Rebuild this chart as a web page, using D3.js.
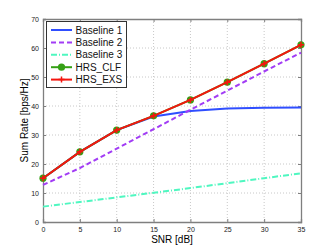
<!DOCTYPE html>
<html>
<head>
<meta charset="utf-8">
<script src="https://cdn.jsdelivr.net/npm/d3@7"></script>
<style>
body { margin: 0; background: #fff; }
text { font-family: "Liberation Sans", Arial, sans-serif; }
</style>
</head>
<body>
<svg width="332" height="250"></svg>
<script>
// SNR points and the five curves
var snr = [0, 5, 10, 15, 20, 25, 30, 35];
var baseline1 = [15.1, 24.2, 31.7, 36.4, 38.3, 39.1, 39.4, 39.5];
var baseline2 = [12.8, 18.6, 25.3, 32.0, 38.7, 45.3, 51.9, 58.4];
var baseline3 = [5.3, 6.9, 8.5, 10.1, 11.7, 13.4, 15.1, 16.8];
var hrsClf = [15.1, 24.2, 31.7, 36.6, 42.1, 48.2, 54.6, 61.1];
var hrsExs = [15.1, 24.2, 31.7, 36.6, 42.1, 48.2, 54.6, 61.1];
var xTicks = [0, 5, 10, 15, 20, 25, 30, 35];
var yTicks = [0, 10, 20, 30, 40, 50, 60, 70];

var svg = d3.select("svg");
var pLeft = 43, pRight = 301, pTop = 19, pBottom = 222;

var x = d3.scaleLinear().domain([0, 35]).range([pLeft, pRight]);
var y = d3.scaleLinear().domain([0, 70]).range([pBottom, pTop]);

// grid
svg.append("g").selectAll("line").data(xTicks.slice(1, -1)).enter().append("line")
  .attr("x1", function(d) { return x(d); }).attr("x2", function(d) { return x(d); })
  .attr("y1", pTop).attr("y2", pBottom)
  .style("stroke", "#c8c8c8").style("stroke-width", 1).style("stroke-dasharray", "1,2");
svg.append("g").selectAll("line").data(yTicks.slice(1, -1)).enter().append("line")
  .attr("y1", function(d) { return y(d); }).attr("y2", function(d) { return y(d); })
  .attr("x1", pLeft).attr("x2", pRight)
  .style("stroke", "#c8c8c8").style("stroke-width", 1).style("stroke-dasharray", "1,2");

// axes, ticks pointing inward
svg.append("g").attr("transform", "translate(0," + pBottom + ")")
  .call(d3.axisBottom(x).tickValues(xTicks).tickSize(-3).tickPadding(5));
svg.append("g").attr("transform", "translate(" + pLeft + ",0)")
  .call(d3.axisLeft(y).tickValues(yTicks).tickSize(-3).tickPadding(4));
svg.append("g").attr("transform", "translate(0," + pTop + ")")
  .call(d3.axisTop(x).tickValues(xTicks).tickSize(-3).tickFormat(""));
svg.append("g").attr("transform", "translate(" + pRight + ",0)")
  .call(d3.axisRight(y).tickValues(yTicks).tickSize(-3).tickFormat(""));
svg.selectAll(".domain").style("stroke", "#7f7f7f").style("stroke-width", 1.3);
svg.selectAll(".tick line").style("stroke", "#7f7f7f");
svg.selectAll(".tick text").style("font-size", "7px").style("fill", "#222")
  .style("font-family", "'Liberation Sans', Arial, sans-serif");

// axis labels
svg.append("text").attr("x", (pLeft + pRight) / 2).attr("y", 243)
  .attr("text-anchor", "middle").style("font-size", "10px").text("SNR [dB]");
svg.append("text").attr("transform", "translate(28," + ((pTop + pBottom) / 2) + ") rotate(-90)")
  .attr("text-anchor", "middle").style("font-size", "10px").text("Sum Rate [bps/Hz]");

var line = d3.line()
  .x(function(d, i) { return x(snr[i]); })
  .y(function(d) { return y(d); });

var curves = [
  { name: "Baseline 1", data: baseline1, color: "#2f4eff", dash: null, marker: null },
  { name: "Baseline 2", data: baseline2, color: "#a23cf5", dash: "5,3", marker: null },
  { name: "Baseline 3", data: baseline3, color: "#4ff7c0", dash: "6,2,1,2", marker: null },
  { name: "HRS_CLF", data: hrsClf, color: "#35a015", dash: null, marker: "circle" },
  { name: "HRS_EXS", data: hrsExs, color: "#f4160f", dash: null, marker: "plus" }
];

curves.forEach(function(c) {
  svg.append("path").datum(c.data).attr("d", line)
    .style("fill", "none").style("stroke", c.color).style("stroke-width", 2)
    .style("stroke-dasharray", c.dash);
  if (c.marker == "circle") {
    svg.append("g").selectAll("circle").data(c.data).enter().append("circle")
      .attr("cx", function(d, i) { return x(snr[i]); })
      .attr("cy", function(d) { return y(d); })
      .attr("r", 3.6).style("fill", c.color);
  }
  if (c.marker == "plus") {
    svg.append("g").selectAll("path").data(c.data).enter().append("path")
      .attr("d", function(d, i) {
        var px = x(snr[i]), py = y(d);
        return "M" + (px - 3) + "," + py + "H" + (px + 3) + "M" + px + "," + (py - 3) + "V" + (py + 3);
      })
      .style("stroke", c.color).style("stroke-width", 1.5);
  }
});

// legend
var lg = svg.append("g");
lg.append("rect").attr("x", 46.5).attr("y", 21.5).attr("width", 80).attr("height", 66)
  .style("fill", "#fff").style("stroke", "#333").style("stroke-width", 1);
curves.forEach(function(c, i) {
  var ly = 30 + i * 12.4;
  lg.append("line").attr("x1", 51).attr("x2", 72).attr("y1", ly).attr("y2", ly)
    .style("stroke", c.color).style("stroke-width", 2).style("stroke-dasharray", c.dash);
  if (c.marker == "circle") {
    lg.append("circle").attr("cx", 61.5).attr("cy", ly).attr("r", 3.6).style("fill", c.color);
  }
  if (c.marker == "plus") {
    lg.append("path").attr("d", "M58.5," + ly + "H64.5M61.5," + (ly - 3) + "V" + (ly + 3))
      .style("stroke", c.color).style("stroke-width", 1.5);
  }
  lg.append("text").attr("x", 75.5).attr("y", ly + 3.6).style("font-size", "10px")
    .style("fill", "#111").text(c.name);
});
</script>
</body>
</html>
